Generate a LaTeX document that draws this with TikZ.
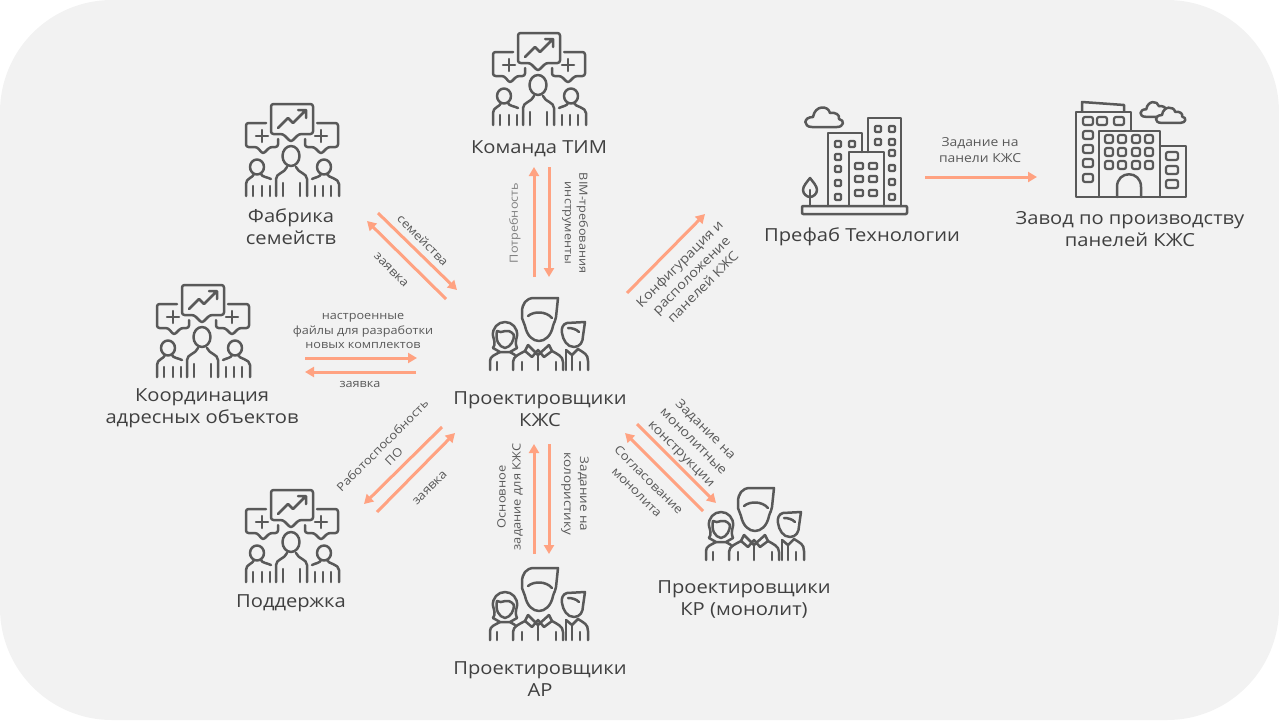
\documentclass[tikz,border=0pt]{standalone}
\usepackage{fontspec}
\setmainfont[FakeStretch=1.12]{Open Sans}
\usetikzlibrary{arrows.meta}
\definecolor{bgc}{HTML}{F2F2F2}
\definecolor{icn}{HTML}{595959}
\definecolor{arc}{HTML}{FFA281}
\definecolor{txa}{HTML}{404040}
\definecolor{txb}{HTML}{595959}
\tikzset{
  x=1pt,y=-1pt,
  ico/.style={draw=icn,line width=2.5pt,line join=round,line cap=round},
  flow/.style={draw=arc,line width=3pt,-{Triangle[length=9pt,width=10pt]}},
  biglbl/.style={text=txa,align=center,inner sep=0pt,font=\fontsize{18}{22}\selectfont},
  smalllbl/.style={text=txb,align=center,inner sep=0pt,font=\fontsize{11.3}{14.5}\selectfont},
  lfs/.style 2 args={font=\fontsize{#1}{#2}\selectfont},
  pics/cloudicon/.style={code={
    \path[ico,fill=bgc] (22,37) .. controls (13,37) and (13,27) .. (23,27)
      .. controls (25,15) and (38,15) .. (40,23)
      .. controls (46,22) and (50,25) .. (49,29)
      .. controls (55,30) and (54,37) .. (47,37) -- cycle;
  }},
  pics/teamicon/.style={code={
    \draw[ico,rounded corners=2.5pt] (50,43) -- (38,43) -- (38,13) -- (80,13) -- (80,43) -- (66,43) -- (58,51) -- cycle;
    \draw[ico] (45,37) -- (55,27) -- (60,32) -- (72,20) (65,19) -- (73,19) -- (73,27);
    \draw[ico,rounded corners=2.5pt] (33,32) -- (13,32) -- (13,56) -- (24,56) -- (30,63) -- (37,56) -- (45,56) -- (45,48);
    \draw[ico] (29,39) -- (29,51) (23,45) -- (35,45);
    \draw[ico,rounded corners=2.5pt] (84,32) -- (105,32) -- (105,56) -- (95,56) -- (88,63) -- (81,56) -- (72,56) -- (72,48);
    \draw[ico] (88,39) -- (88,51) (82,45) -- (94,45);
    \draw[ico] (58,65) ellipse[x radius=8.5,y radius=10];
    \draw[ico] (43,105) -- (43,88) .. controls (43,82) and (52,82) .. (54,76);
    \draw[ico] (74,105) -- (74,88) .. controls (74,82) and (65,82) .. (63,76);
    \draw[ico] (50,92) -- (50,105) (67,92) -- (67,105);
    \draw[ico] (24,76) ellipse[x radius=7,y radius=7.5];
    \draw[ico] (13,105) -- (13,93) .. controls (13,87) and (20,87) .. (21,83);
    \draw[ico] (28,83) .. controls (29,86) and (34,86) .. (38,88);
    \draw[ico] (20,95) -- (20,105) (29,95) -- (29,105) (37,95) -- (37,105);
    \draw[ico] (91,76) ellipse[x radius=7,y radius=7.5];
    \draw[ico] (106,105) -- (106,93) .. controls (106,87) and (95,87) .. (94,83);
    \draw[ico] (88,83) .. controls (87,86) and (83,86) .. (79,88);
    \draw[ico] (82,95) -- (82,105) (90,95) -- (90,105) (98,95) -- (98,105);
  }},
  pics/trioicon/.style={code={
    \draw[ico] (78,8) -- (54,8) .. controls (46,8) and (42,14) .. (42,22) -- (42,28)
      .. controls (43,32) and (44,32) .. (45,36) .. controls (47,46) and (53,51) .. (59,51)
      .. controls (65,51) and (71,46) .. (73,36) .. controls (74,32) and (76,30) .. (76,27) -- cycle;
    \draw[ico] (48,26) .. controls (54,21) and (66,21) .. (72,28);
    \draw[ico] (48,55) -- (58,65) -- (69,55) (48,55) -- (45,61) -- (52,67) -- (58,60) -- (64,67) -- (72,61) -- (69,55);
    \draw[ico] (58,64) -- (58,80);
    \draw[ico] (33,80) -- (33,72) .. controls (33,66) and (40,64) .. (45,61);
    \draw[ico] (83,80) -- (83,72) .. controls (83,66) and (77,64) .. (72,61);
    \draw[ico] (42,72) -- (42,80) (76,72) -- (76,80);
    \draw[ico] (13,58) .. controls (16,54) and (14,50) .. (13,46) .. controls (12,38) and (18,32) .. (25,32)
      .. controls (32,32) and (38,38) .. (37,46) .. controls (36,50) and (35,54) .. (37,58);
    \draw[ico] (17,41) .. controls (22,45) and (27,36) .. (34,45);
    \draw[ico] (17,41) .. controls (15,50) and (19,57) .. (25,58) .. controls (31,57) and (34,50) .. (34,45);
    \draw[ico] (13,58) -- (20,62) -- (30,62) -- (37,58);
    \draw[ico] (10,80) -- (10,71) .. controls (10,66) and (15,65) .. (20,62);
    \draw[ico] (30,62) .. controls (33,64) and (33,64) .. (35,65);
    \draw[ico] (17,72) -- (17,80);
    \draw[ico] (105,32) -- (87,33) .. controls (83,34) and (81,38) .. (82,43) .. controls (83,50) and (87,57) .. (94,57)
      .. controls (100,57) and (103,52) .. (103,46) -- cycle;
    \draw[ico] (88,38) .. controls (92,38) and (96,39) .. (99,42);
    \draw[ico] (86,60) -- (92,65) -- (98,59);
    \draw[ico] (92,65) -- (92,80);
    \draw[ico] (86,60) -- (86,80);
    \draw[ico] (98,59) .. controls (104,63) and (108,64) .. (108,71) -- (108,80);
    \draw[ico] (100,72) -- (100,80);
  }},
  win/.style={ico,rounded corners=1pt,line width=2.2pt},
  pics/cityicon/.style={code={
    \draw[ico,rounded corners=1pt] (12,116) rectangle (117,124);
    \draw[ico] (38,116) -- (38,43) -- (72,43) -- (72,62);
    \draw[ico] (59,116) -- (59,62) -- (94,62) -- (94,116);
    \draw[ico] (78,62) -- (78,28) -- (111,28) -- (111,116);
    \foreach \wx/\wy in {48/54,62/54,48/67,48/79,48/93,48/107,88/39,102/39,88/52,102/52,102/63,102/78,102/92,102/107}
      \draw[win] (\wx-3,\wy-3) rectangle (\wx+3,\wy+3);
    \foreach \wx in {69,83} \foreach \wy in {76,89,103}
      \draw[win] (\wx-4,\wy-3) rectangle (\wx+4,\wy+3);
    \draw[ico] (20,88) .. controls (17,92) and (13,96) .. (13,100) .. controls (13,104) and (17,107) .. (20,107)
      .. controls (23,107) and (27,104) .. (27,100) .. controls (27,96) and (23,92) .. (20,88) -- cycle;
    \draw[ico] (20,100) -- (20,116);
    \pic at (0,0) {cloudicon};
  }},
  pics/factoryicon/.style={code={
    \draw[ico] (22,21) -- (22,12) -- (64,15) -- (64,21);
    \draw[ico] (71,40) -- (71,22) -- (16,22) -- (16,107) -- (126,107) -- (126,56) -- (100,56);
    \draw[ico] (39,107) -- (39,41) -- (100,41) -- (100,107);
    \draw[ico] (57,107) -- (57,97) .. controls (57,80) and (81,80) .. (81,97) -- (81,107);
    \foreach \wx/\wy in {28/31,42/31,59/31,28/45,28/59,28/73,28/88}
      \draw[win,rounded corners=2pt] (\wx-5,\wy-4) rectangle (\wx+5,\wy+4);
    \foreach \wx in {49,62,76,89} \foreach \wy in {49,62,75}
      \draw[win,rounded corners=2pt] (\wx-4,\wy-4) rectangle (\wx+4,\wy+4);
    \foreach \wy in {66,80,94}
      \draw[win,rounded corners=2pt] (112-6,\wy-4) rectangle (112+6,\wy+4);
    \pic[scale=.75] at (69,-1) {cloudicon};
    \pic[scale=.78] at (84,4) {cloudicon};
  }}
}
\begin{document}
\begin{tikzpicture}
\useasboundingbox (0,0) rectangle (1279,720);
\fill[bgc,rounded corners=112pt] (0,0) rectangle (1279,720);
\pic at (480,20) {teamicon};
\pic at (233,91) {teamicon};
\pic at (144,272) {teamicon};
\pic at (233,477) {teamicon};
\pic at (480,290) {trioicon};
\pic at (480,560) {trioicon};
\pic at (696,480) {trioicon};
\pic at (790,90) {cityicon};
\pic at (1060,90) {factoryicon};
\node[biglbl] (tim) at (539,148.5) {Команда ТИМ};
\node[biglbl] (fab) at (291,227) {Фабрика\\семейств};
\node[biglbl] (koord) at (202,408) {Координация\\адресных объектов};
\node[biglbl] (podd) at (291,603) {Поддержка};
\node[biglbl] (kzs) at (540,409) {Проектировщики\\КЖС};
\node[biglbl] (ar) at (540,679) {Проектировщики\\АР};
\node[biglbl] (kr) at (744,599) {Проектировщики\\КР (монолит)};
\node[biglbl] (pref) at (862,237) {Префаб Технологии};
\node[biglbl] (zavod) at (1130,229) {Завод по производству\\панелей КЖС};
\coordinate (a1s) at (378,213); \coordinate (a1e) at (457,290);
\coordinate (a2s) at (446,299); \coordinate (a2e) at (367,221);
\coordinate (a3s) at (305,358); \coordinate (a3e) at (417,358);
\coordinate (a4s) at (416,372); \coordinate (a4e) at (305,372);
\coordinate (a5s) at (442,427); \coordinate (a5e) at (364,504);
\coordinate (a6s) at (377,512); \coordinate (a6e) at (455,433);
\coordinate (a7s) at (534,554); \coordinate (a7e) at (534,444);
\coordinate (a8s) at (549,444); \coordinate (a8e) at (549,554);
\coordinate (a9s) at (637,424); \coordinate (a9e) at (716,503);
\coordinate (a10s) at (703,511); \coordinate (a10e) at (625,433);
\coordinate (a11s) at (534,277); \coordinate (a11e) at (534,167);
\coordinate (a12s) at (549,167); \coordinate (a12e) at (549,277);
\coordinate (a13s) at (627,293); \coordinate (a13e) at (705,214);
\coordinate (a14s) at (925,177); \coordinate (a14e) at (1037,177);
\foreach \n in {1,...,14} \draw[flow] (a\n s) -- (a\n e);
\node[smalllbl,rotate=-45,lfs={11.8}{15}] (l1) at (423,240) {семейства};
\node[smalllbl,rotate=-45,lfs={12}{15}] (l2) at (391,270) {заявка};
\node[smalllbl] (l3) at (363,331) {настроенные\\файлы для разработки\\новых комплектов};
\node[smalllbl] (l4) at (360,384) {заявка};
\node[smalllbl,rotate=45,lfs={11.6}{16}] (l5) at (388,451) {Работоспособность\\ПО};
\node[smalllbl,rotate=45,lfs={12}{15}] (l6) at (430,488) {заявка};
\node[smalllbl,rotate=90,lfs={11.5}{15}] (l7) at (510,497) {Основное\\задание для КЖС};
\node[smalllbl,rotate=-90,lfs={12}{16}] (l8) at (575,494) {Задание на\\колористику};
\node[smalllbl,rotate=-45,lfs={12.7}{17}] (l9) at (693,442) {Задание на\\монолитные\\конструкции};
\node[smalllbl,rotate=-45,lfs={12}{17}] (l10) at (643,486) {Согласование\\монолита};
\node[smalllbl,rotate=90,text=gray] (l11) at (515,223) {Потребность};
\node[smalllbl,rotate=-90] (l12) at (575,223) {BIM-требования\\инструменты};
\node[smalllbl,rotate=45,lfs={13}{16.5}] (l13) at (691,275) {Конфигурация и\\расположение\\панелей КЖС};
\node[smalllbl,lfs={12.4}{16}] (l14) at (980,150) {Задание на\\панели КЖС};
\end{tikzpicture}
\end{document}
